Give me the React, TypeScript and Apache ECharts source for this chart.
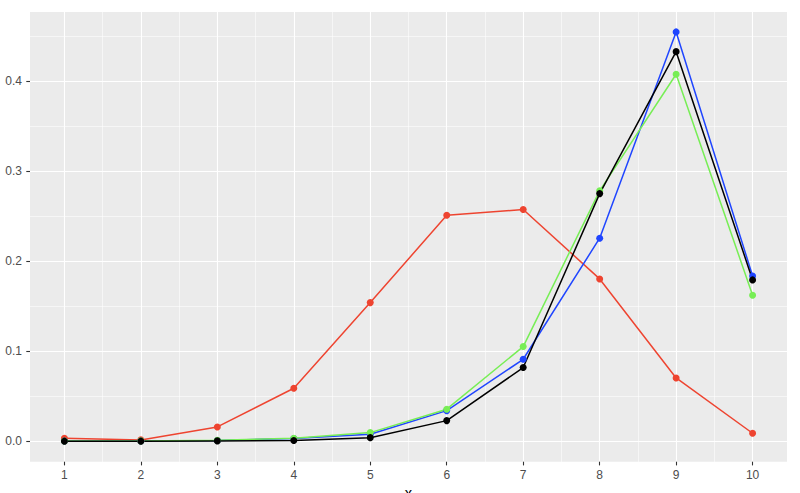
import React, { useEffect, useRef } from "react";
import * as echarts from "echarts";

const xValues = [1, 2, 3, 4, 5, 6, 7, 8, 9, 10];
const redValues = [0.0034, 0.0015, 0.0159, 0.0588, 0.1539, 0.2509, 0.2572, 0.1802, 0.0703, 0.0089];
const blueValues = [0.0002, 0.0003, 0.0008, 0.003, 0.0078, 0.034, 0.091, 0.2254, 0.4544, 0.1835];
const greenValues = [0.0002, 0.0004, 0.001, 0.0033, 0.0096, 0.0356, 0.1051, 0.278, 0.4074, 0.1621];
const blackValues = [0.0001, 0.0001, 0.0004, 0.0008, 0.004, 0.0229, 0.0818, 0.2749, 0.4325, 0.1791];
const xTickLabels = ["1", "2", "3", "4", "5", "6", "7", "8", "9", "10"];
const yTickLabels = ["0.0", "0.1", "0.2", "0.3", "0.4"];

const FONT = "'Liberation Sans', Arial, Helvetica, sans-serif";
const OFF = 100;

function pairs(vals: number[]) {
  return xValues.map((x, i) => [x, vals[i]]);
}

export default function App() {
  const ref = useRef<HTMLDivElement>(null);
  useEffect(() => {
    if (!ref.current) return;
    const chart = echarts.init(ref.current, undefined, { renderer: "svg" });
    const panelLeft = 30;
    const panelTop = 12;
    const panelW = 757;
    const panelH = 449.7;
    const unitX = panelW / 9.9;
    const unitY = 900.8;
    const zeroY = 441.33;
    const bigLeft = panelLeft - 0.55 * unitX;
    const bigW = 11 * unitX;
    const bigTop = zeroY - 0.5 * unitY;
    const bigH = 0.6 * unitY;

    const mkSeries = (name: string, vals: number[], color: string) => ({
      name,
      type: "line",
      xAxisIndex: 0,
      yAxisIndex: 0,
      data: pairs(vals),
      symbol: "circle",
      symbolSize: 7,
      showSymbol: true,
      lineStyle: { color, width: 1.5 },
      itemStyle: { color },
      z: 3,
      clip: false,
    });

    chart.setOption({
      animation: false,
      backgroundColor: "#FFFFFF",
      grid: [
        { left: OFF + panelLeft, top: OFF + panelTop, width: panelW, height: panelH, show: true, backgroundColor: "#EBEBEB", borderWidth: 0, containLabel: false },
        { left: OFF + bigLeft, top: OFF + bigTop, width: bigW, height: bigH, containLabel: false },
        { left: OFF + bigLeft, top: OFF + panelTop, width: bigW, height: panelH, containLabel: false },
        { left: OFF + panelLeft, top: OFF + bigTop, width: panelW, height: bigH, containLabel: false },
      ],
      xAxis: [
        { gridIndex: 0, type: "value", min: 0.55, max: 10.45, show: false },
        {
          gridIndex: 1, type: "value", min: 0, max: 11, interval: 1,
          axisLine: { show: false }, axisTick: { show: false }, axisLabel: { show: false },
          splitLine: { show: true, lineStyle: { color: "#FFFFFF", width: 1.1 } },
          minorTick: { show: false, splitNumber: 2 },
          minorSplitLine: { show: true, lineStyle: { color: "#FFFFFF", width: 0.55 } },
          z: 0,
        },
        {
          gridIndex: 2, type: "value", min: 0, max: 11, interval: 1,
          axisLine: { show: false, onZero: false },
          axisTick: { show: true, length: 3.7, lineStyle: { color: "#333333", width: 1.1 } },
          axisLabel: {
            show: true, interval: 0, margin: 7, color: "#4D4D4D", fontSize: 12, fontFamily: FONT,
            formatter: (v: number) => (v >= 1 && v <= 10 ? xTickLabels[Math.round(v) - 1] : ""),
          },
          splitLine: { show: false },
          z: 4,
        },
        { gridIndex: 3, type: "value", min: 0, max: 1, show: false },
      ],
      yAxis: [
        { gridIndex: 0, type: "value", min: -0.0227, max: 0.4765, show: false },
        {
          gridIndex: 1, type: "value", min: -0.1, max: 0.5, interval: 0.1,
          axisLine: { show: false }, axisTick: { show: false }, axisLabel: { show: false },
          splitLine: { show: true, lineStyle: { color: "#FFFFFF", width: 1.1 } },
          minorTick: { show: false, splitNumber: 2 },
          minorSplitLine: { show: true, lineStyle: { color: "#FFFFFF", width: 0.55 } },
          z: 0,
        },
        { gridIndex: 2, type: "value", min: 0, max: 1, show: false },
        {
          gridIndex: 3, type: "value", min: -0.1, max: 0.5, interval: 0.1,
          axisLine: { show: false, onZero: false },
          axisTick: { show: true, length: 3.7, lineStyle: { color: "#333333", width: 1.1 } },
          axisLabel: {
            show: true, interval: 0, margin: 8, color: "#4D4D4D", fontSize: 12, fontFamily: FONT,
            formatter: (v: number) => {
              const k = Math.round(v * 10);
              return k >= 0 && k <= 4 ? yTickLabels[k] : "";
            },
          },
          splitLine: { show: false },
          z: 4,
        },
      ],
      graphic: [
        {
          type: "text",
          x: OFF + panelLeft + panelW / 2,
          y: OFF + 493.2,
          style: {
            text: "x",
            fontSize: 14.7,
            fontFamily: FONT,
            fill: "#000000",
            align: "center",
            verticalAlign: "middle",
            textAlign: "center",
            textVerticalAlign: "middle",
          },
        },
      ],
      series: [
        mkSeries("red", redValues, "#EE4430"),
        mkSeries("blue", blueValues, "#1F45FF"),
        mkSeries("green", greenValues, "#77EE55"),
        mkSeries("black", blackValues, "#000000"),
      ],
    });
    return () => chart.dispose();
  }, []);
  return (
    <div style={{ position: "fixed", left: 0, top: 0, width: 800, height: 493, overflow: "hidden", background: "#FFFFFF" }}>
      <div
        ref={ref}
        style={{ position: "absolute", left: -OFF, top: -OFF, width: 1000, height: 700 }}
      />
    </div>
  );
}
